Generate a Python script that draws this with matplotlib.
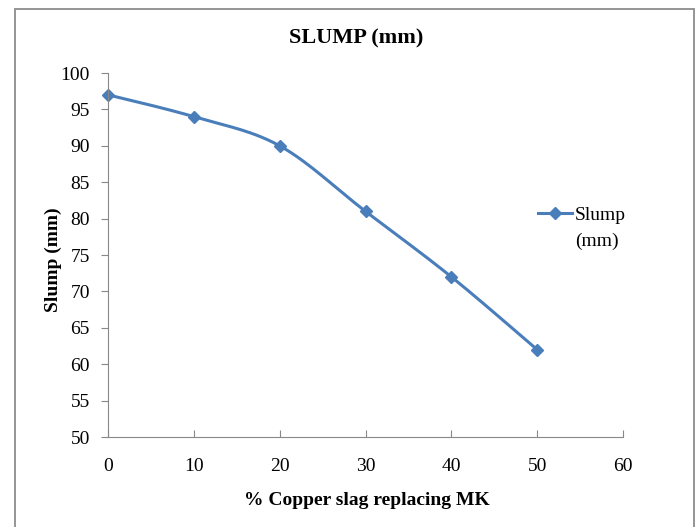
import numpy as np
import matplotlib.pyplot as plt
from matplotlib.patches import Rectangle
from matplotlib.lines import Line2D

plt.rcParams['font.family'] = ['Liberation Serif', 'DejaVu Serif']

# data
copper_slag = [0, 10, 20, 30, 40, 50]
slump = [97, 94, 90, 81, 72, 62]
x_ticks = [0, 10, 20, 30, 40, 50, 60]
y_ticks = [50, 55, 60, 65, 70, 75, 80, 85, 90, 95, 100]


def smooth(x, y, n=30, t=0.5):
    # catmull-rom style curve like Excel's smoothed line
    x = np.asarray(x, float)
    y = np.asarray(y, float)
    px = np.concatenate([[x[0]], x, [x[-1]]])
    py = np.concatenate([[y[0]], y, [y[-1]]])
    xs, ys = [], []
    for i in range(1, len(px) - 2):
        p0 = np.array([px[i], py[i]])
        p1 = np.array([px[i + 1], py[i + 1]])
        m0 = (np.array([px[i + 1], py[i + 1]]) - np.array([px[i - 1], py[i - 1]])) * t
        m1 = (np.array([px[i + 2], py[i + 2]]) - np.array([px[i], py[i]])) * t
        s = np.linspace(0, 1, n)
        h00 = 2 * s**3 - 3 * s**2 + 1
        h10 = s**3 - 2 * s**2 + s
        h01 = -2 * s**3 + 3 * s**2
        h11 = s**3 - s**2
        pts = np.outer(h00, p0) + np.outer(h10, m0) + np.outer(h01, p1) + np.outer(h11, m1)
        xs.extend(pts[:, 0])
        ys.extend(pts[:, 1])
    return xs, ys


fig = plt.figure(figsize=(6.96, 5.27), dpi=100)
ax = fig.add_axes([108 / 696, 1 - 437 / 527, (623 - 108) / 696, (437 - 73) / 527])

# chart border
fig.patches.append(Rectangle((15 / 696, -0.01), (694 - 15) / 696, 1 - 9 / 527 + 0.01,
                             transform=fig.transFigure, fill=False,
                             edgecolor='#8c8c8c', lw=1.3))

sx, sy = smooth(copper_slag, slump)
blue = '#4a7ebb'
ax.plot(sx, sy, color=blue, lw=2.2, solid_capstyle='round')
ax.plot(copper_slag, slump, 'D', color=blue, ms=6, clip_on=False)

ax.set_xlim(0, 60)
ax.set_ylim(50, 100)
ax.set_xticks(x_ticks)
ax.set_yticks(y_ticks)
for s in ['top', 'right']:
    ax.spines[s].set_visible(False)
for s in ['left', 'bottom']:
    ax.spines[s].set_color('#888888')
ax.tick_params(axis='y', direction='out', length=5, color='#888888', labelsize=14, pad=8)
ax.tick_params(axis='x', direction='in', length=5, color='#888888', labelsize=14, pad=15)

ax.set_xlabel('% Copper slag replacing MK', fontsize=14, fontweight='bold')
ax.set_ylabel('Slump (mm)', fontsize=14, fontweight='bold')
ax.xaxis.set_label_coords(0.503, -0.152)
ax.yaxis.set_label_coords(-0.089, 0.486)
fig.text(356 / 696, 1 - 38 / 527, 'SLUMP (mm)', fontsize=16, fontweight='bold',
         ha='center', va='center')

# legend: handle sits on the first line of the wrapped label
handles = [Line2D([], [], color=blue, lw=2.2, marker='D', ms=6),
           Line2D([], [], color='none')]
ax.legend(handles, ['Slump', '(mm)'], loc='upper left',
          bbox_to_anchor=(538 / 696, 1 - 206 / 527),
          bbox_transform=fig.transFigure, frameon=False, fontsize=14,
          handlelength=1.75, handletextpad=0.15, borderaxespad=0, borderpad=0,
          labelspacing=0.45)

fig.savefig('out.png', dpi=100)
